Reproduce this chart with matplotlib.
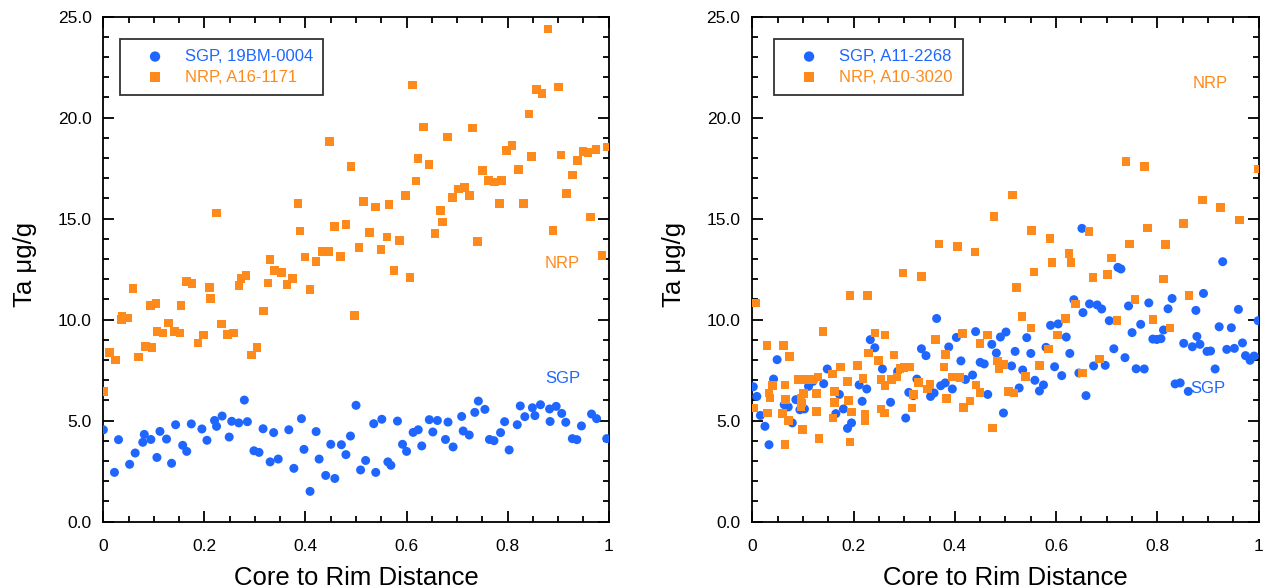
#!/usr/bin/env python3
"""
Ta (ug/g) core-to-rim profiles for SGP and NRP grains, two panels side by side.
"""

import matplotlib
matplotlib.use("Agg")
import matplotlib.pyplot as plt
from matplotlib.ticker import MultipleLocator, FormatStrFormatter

plt.rcParams["font.family"] = ["Liberation Sans", "DejaVu Sans"]

BLUE = "#1f66ff"
ORANGE = "#ff8a1c"

# ---------------------------------------------------------------------------
# Left panel: SGP 19BM-0004 and NRP A16-1171
# ---------------------------------------------------------------------------
left_sgp_x = [
    0.000, 0.022, 0.030, 0.052, 0.063, 0.078, 0.081, 0.094, 0.106, 0.112,
    0.125, 0.135, 0.143, 0.157, 0.165, 0.174, 0.195, 0.205, 0.220, 0.224,
    0.235, 0.249, 0.254, 0.268, 0.279, 0.285, 0.298, 0.308, 0.316, 0.330,
    0.337, 0.346, 0.367, 0.377, 0.392, 0.397, 0.409, 0.421, 0.427, 0.440,
    0.450, 0.458, 0.471, 0.480, 0.489, 0.500, 0.509, 0.519, 0.535, 0.539,
    0.551, 0.563, 0.569, 0.582, 0.592, 0.600, 0.613, 0.623, 0.630, 0.645,
    0.652, 0.661, 0.677, 0.682, 0.692, 0.709, 0.712, 0.724, 0.735, 0.742,
    0.755, 0.764, 0.773, 0.786, 0.794, 0.803, 0.819, 0.825, 0.834, 0.849,
    0.854, 0.865, 0.883, 0.884, 0.896, 0.907, 0.915, 0.928, 0.937, 0.946,
    0.966, 0.976, 0.996,
]
left_sgp_y = [
    4.55, 2.44, 4.06, 2.84, 3.40, 3.93, 4.32, 4.07, 3.18, 4.47,
    4.09, 2.89, 4.80, 3.78, 3.48, 4.84, 4.59, 4.03, 5.01, 4.72,
    5.23, 4.19, 4.97, 4.89, 6.02, 4.95, 3.51, 3.43, 4.60, 2.96,
    4.41, 3.10, 4.55, 2.64, 5.10, 3.58, 1.50, 4.46, 3.10, 2.29,
    3.83, 2.14, 3.81, 3.32, 4.24, 5.76, 2.56, 3.03, 4.85, 2.44,
    5.07, 2.96, 2.79, 4.98, 3.83, 3.48, 4.42, 4.55, 3.75, 5.05,
    4.44, 5.01, 4.07, 4.93, 3.70, 5.21, 4.49, 4.29, 5.41, 5.97,
    5.56, 4.07, 4.01, 4.41, 4.95, 3.55, 4.80, 5.73, 5.20, 5.64,
    5.25, 5.79, 5.58, 4.96, 5.71, 5.36, 4.92, 4.11, 4.06, 4.74,
    5.33, 5.10, 4.11,
]

left_nrp_x = [
    0.000, 0.012, 0.024, 0.036, 0.037, 0.049, 0.059, 0.070, 0.083, 0.093,
    0.096, 0.104, 0.106, 0.118, 0.129, 0.141, 0.152, 0.154, 0.165, 0.175,
    0.187, 0.198, 0.210, 0.212, 0.224, 0.234, 0.246, 0.258, 0.268, 0.272,
    0.282, 0.293, 0.304, 0.317, 0.326, 0.330, 0.339, 0.352, 0.363, 0.374,
    0.385, 0.389, 0.399, 0.409, 0.421, 0.433, 0.445, 0.447, 0.457, 0.469,
    0.480, 0.490, 0.497, 0.506, 0.515, 0.527, 0.538, 0.549, 0.561, 0.565,
    0.575, 0.586, 0.598, 0.607, 0.612, 0.619, 0.623, 0.633, 0.644, 0.656,
    0.667, 0.671, 0.681, 0.691, 0.703, 0.715, 0.725, 0.730, 0.740, 0.750,
    0.762, 0.774, 0.784, 0.788, 0.798, 0.809, 0.821, 0.831, 0.842, 0.847,
    0.857, 0.868, 0.880, 0.890, 0.901, 0.906, 0.917, 0.928, 0.938, 0.949,
    0.959, 0.964, 0.975, 0.987, 0.997,
]
left_nrp_y = [
    6.45, 8.38, 8.00, 10.00, 10.16, 10.08, 11.53, 8.15, 8.68, 10.69,
    8.61, 10.79, 9.41, 9.34, 9.83, 9.41, 9.34, 10.69, 11.88, 11.78,
    8.85, 9.24, 11.60, 11.04, 15.28, 9.79, 9.26, 9.34, 11.68, 12.03,
    12.18, 8.25, 8.61, 10.43, 11.82, 12.99, 12.43, 12.34, 11.73, 12.03,
    15.74, 14.40, 13.10, 11.49, 12.89, 13.38, 13.38, 18.83, 14.62, 13.13,
    14.70, 17.59, 10.20, 13.58, 15.84, 14.31, 15.58, 13.48, 14.09, 15.69,
    12.43, 13.93, 16.14, 12.10, 21.62, 16.87, 17.99, 19.54, 17.67, 14.26,
    15.40, 14.84, 19.04, 16.06, 16.48, 16.55, 16.15, 19.50, 13.88, 17.38,
    16.88, 16.82, 15.74, 16.88, 18.37, 18.63, 17.44, 15.74, 20.18, 18.08,
    21.40, 21.20, 24.39, 14.41, 21.53, 18.15, 16.25, 17.16, 17.87, 18.32,
    18.27, 15.08, 18.43, 13.17, 18.55,
]

# ---------------------------------------------------------------------------
# Right panel: SGP A11-2268 and NRP A10-3020
# ---------------------------------------------------------------------------
right_sgp_x = [
    0.002, 0.009, 0.016, 0.025, 0.033, 0.042, 0.049, 0.063, 0.071, 0.079,
    0.086, 0.094, 0.103, 0.111, 0.120, 0.141, 0.148, 0.165, 0.172, 0.180,
    0.188, 0.196, 0.211, 0.217, 0.226, 0.233, 0.242, 0.257, 0.273, 0.287,
    0.303, 0.309, 0.318, 0.325, 0.334, 0.343, 0.352, 0.359, 0.364, 0.372,
    0.381, 0.388, 0.395, 0.403, 0.412, 0.421, 0.435, 0.441, 0.450, 0.458,
    0.465, 0.473, 0.482, 0.490, 0.496, 0.501, 0.512, 0.519, 0.527, 0.534,
    0.542, 0.550, 0.558, 0.567, 0.575, 0.580, 0.589, 0.597, 0.604, 0.611,
    0.620, 0.627, 0.635, 0.645, 0.651, 0.653, 0.659, 0.666, 0.674, 0.681,
    0.690, 0.697, 0.705, 0.714, 0.722, 0.728, 0.736, 0.743, 0.750, 0.758,
    0.767, 0.774, 0.783, 0.791, 0.799, 0.807, 0.812, 0.821, 0.829, 0.835,
    0.845, 0.852, 0.861, 0.869, 0.876, 0.878, 0.884, 0.891, 0.898, 0.905,
    0.914, 0.922, 0.929, 0.937, 0.946, 0.952, 0.960, 0.968, 0.974, 0.983,
    0.991, 0.999,
]
right_sgp_y = [
    6.68, 6.20, 5.26, 4.72, 3.81, 7.06, 8.02, 5.79, 5.68, 4.89,
    6.04, 5.54, 5.58, 6.70, 6.95, 6.83, 7.56, 5.35, 6.30, 5.58,
    4.62, 4.89, 6.77, 5.96, 6.57, 9.01, 8.61, 7.56, 5.91, 7.44,
    5.13, 6.40, 6.24, 7.06, 8.56, 8.22, 6.20, 6.37, 10.06, 6.73,
    6.87, 8.65, 6.57, 9.12, 7.96, 7.04, 7.26, 9.41, 7.89, 7.81,
    6.30, 8.78, 8.35, 9.14, 5.38, 9.39, 7.71, 8.43, 6.62, 7.51,
    9.11, 8.33, 7.00, 6.47, 6.77, 8.63, 9.72, 7.67, 9.79, 7.23,
    9.14, 8.33, 10.99, 7.36, 14.52, 10.35, 6.24, 10.78, 7.71, 10.73,
    10.53, 7.74, 9.95, 8.56, 12.59, 12.51, 8.12, 10.68, 9.36, 7.57,
    9.77, 7.56, 10.83, 9.04, 9.02, 9.06, 9.49, 10.54, 11.05, 6.82,
    6.87, 8.83, 6.45, 8.66, 10.46, 9.17, 8.78, 11.30, 8.43, 8.45,
    7.56, 9.65, 12.87, 8.53, 9.60, 8.58, 10.51, 8.85, 8.22, 7.99,
    8.20, 9.95,
]

right_nrp_x = [
    0.002, 0.007, 0.029, 0.030, 0.033, 0.035, 0.040, 0.060, 0.062, 0.065,
    0.065, 0.066, 0.071, 0.073, 0.090, 0.096, 0.096, 0.098, 0.099, 0.101,
    0.101, 0.109, 0.120, 0.127, 0.127, 0.130, 0.132, 0.140, 0.158, 0.159,
    0.162, 0.162, 0.174, 0.188, 0.190, 0.193, 0.193, 0.196, 0.208, 0.219,
    0.223, 0.223, 0.228, 0.229, 0.242, 0.249, 0.254, 0.254, 0.261, 0.262,
    0.262, 0.275, 0.280, 0.286, 0.292, 0.298, 0.300, 0.311, 0.315, 0.318,
    0.328, 0.334, 0.346, 0.351, 0.362, 0.369, 0.379, 0.381, 0.384, 0.395,
    0.405, 0.410, 0.415, 0.417, 0.430, 0.440, 0.442, 0.450, 0.450, 0.464,
    0.474, 0.477, 0.484, 0.487, 0.497, 0.506, 0.514, 0.517, 0.522, 0.533,
    0.540, 0.550, 0.551, 0.556, 0.567, 0.585, 0.588, 0.592, 0.603, 0.618,
    0.625, 0.629, 0.638, 0.652, 0.665, 0.673, 0.686, 0.701, 0.709, 0.720,
    0.738, 0.745, 0.756, 0.774, 0.781, 0.791, 0.812, 0.816, 0.825, 0.852,
    0.862, 0.889, 0.925, 0.962, 0.999,
]
right_nrp_y = [
    5.63, 10.83, 8.73, 5.38, 6.37, 6.12, 6.73, 5.35, 8.73, 6.77,
    3.81, 6.05, 5.01, 8.18, 7.04, 6.12, 5.71, 5.88, 4.55, 7.04,
    6.34, 7.04, 7.03, 6.34, 5.46, 7.16, 4.11, 9.41, 7.31, 5.13,
    6.44, 5.89, 7.66, 6.95, 6.00, 11.20, 3.95, 5.43, 7.74, 7.08,
    5.30, 5.01, 11.20, 8.35, 9.34, 7.97, 7.03, 5.58, 5.38, 9.24,
    6.73, 7.03, 8.25, 7.16, 7.59, 12.31, 7.64, 7.66, 5.63, 6.30,
    6.90, 12.14, 6.57, 6.78, 9.01, 13.75, 7.66, 8.27, 6.10, 7.16,
    13.61, 7.14, 9.32, 5.66, 5.97, 13.35, 6.77, 8.81, 6.40, 9.24,
    4.64, 15.10, 7.95, 7.57, 7.78, 6.44, 16.17, 6.37, 11.60, 10.16,
    7.18, 9.59, 14.42, 12.36, 7.74, 8.55, 14.01, 12.84, 9.24, 10.07,
    13.28, 12.82, 10.78, 7.36, 14.36, 12.10, 8.05, 12.24, 13.05, 9.95,
    17.82, 13.75, 10.99, 17.59, 14.54, 10.00, 12.01, 13.71, 9.59, 14.75,
    11.20, 15.92, 15.56, 14.93, 17.46,
]

PANELS = [
    # (sgp x, sgp y, nrp x, nrp y, sgp label, nrp label, legend x,
    #  NRP tag pos, SGP tag pos)
    (left_sgp_x, left_sgp_y, left_nrp_x, left_nrp_y,
     "SGP, 19BM-0004", "NRP, A16-1171", 0.033, (0.907, 12.8), (0.91, 7.1)),
    (right_sgp_x, right_sgp_y, right_nrp_x, right_nrp_y,
     "SGP, A11-2268", "NRP, A10-3020", 0.043, (0.904, 21.7), (0.90, 6.6)),
]


def draw_panel(ax, sx, sy, nx, ny, slabel, nlabel, leg_x, nrp_pos, sgp_pos):
    ax.scatter(sx, sy, s=42, marker="o", color=BLUE, edgecolors="none",
               label=slabel, zorder=3)
    ax.scatter(nx, ny, s=38, marker="s", color=ORANGE, edgecolors="none",
               label=nlabel, zorder=3)

    ax.set_xlim(0, 1)
    ax.set_ylim(0, 25)
    ax.xaxis.set_major_locator(MultipleLocator(0.2))
    ax.xaxis.set_minor_locator(MultipleLocator(0.05))
    ax.yaxis.set_major_locator(MultipleLocator(5))
    ax.yaxis.set_minor_locator(MultipleLocator(1))
    ax.yaxis.set_major_formatter(FormatStrFormatter("%.1f"))
    ax.set_xticks([0, 0.2, 0.4, 0.6, 0.8, 1.0])
    ax.set_xticklabels(["0", "0.2", "0.4", "0.6", "0.8", "1"])

    ax.tick_params(which="both", direction="in", top=True, right=True,
                   width=1.3, labelsize=12.5)
    ax.tick_params(which="major", length=8)
    ax.tick_params(which="minor", length=4.5)
    ax.tick_params(axis="y", pad=8.5)
    ax.tick_params(axis="x", pad=12.5)
    for sp in ax.spines.values():
        sp.set_linewidth(1.3)

    ax.set_xlabel("Core to Rim Distance", fontsize=18.5)
    ax.xaxis.set_label_coords(0.5, -0.088)
    ax.set_ylabel("Ta \u03bcg/g", fontsize=18.5)
    ax.yaxis.set_label_coords(-0.131, 0.51)

    ax.text(*nrp_pos, "NRP", color=ORANGE, fontsize=12,
            ha="center", va="center")
    ax.text(*sgp_pos, "SGP", color=BLUE, fontsize=12,
            ha="center", va="center")

    leg = ax.legend(loc="upper left", bbox_to_anchor=(leg_x, 0.956),
                    borderaxespad=0, fontsize=12, frameon=True, fancybox=False,
                    edgecolor="black", handletextpad=0.3, borderpad=0.6,
                    labelspacing=0.35, handlelength=3.0, scatterpoints=1,
                    markerscale=1.15)
    leg.get_frame().set_linewidth(1.3)
    for txt, col in zip(leg.get_texts(), [BLUE, ORANGE]):
        txt.set_color(col)


def main():
    fig = plt.figure(figsize=(12.65, 5.88), dpi=100)
    ax_l = fig.add_axes([0.0817, 0.1128, 0.3995, 0.8588])
    ax_r = fig.add_axes([0.5947, 0.1128, 0.4003, 0.8588])
    for ax, panel in zip([ax_l, ax_r], PANELS):
        draw_panel(ax, *panel)
    fig.savefig("out.png", dpi=100)


if __name__ == "__main__":
    main()
